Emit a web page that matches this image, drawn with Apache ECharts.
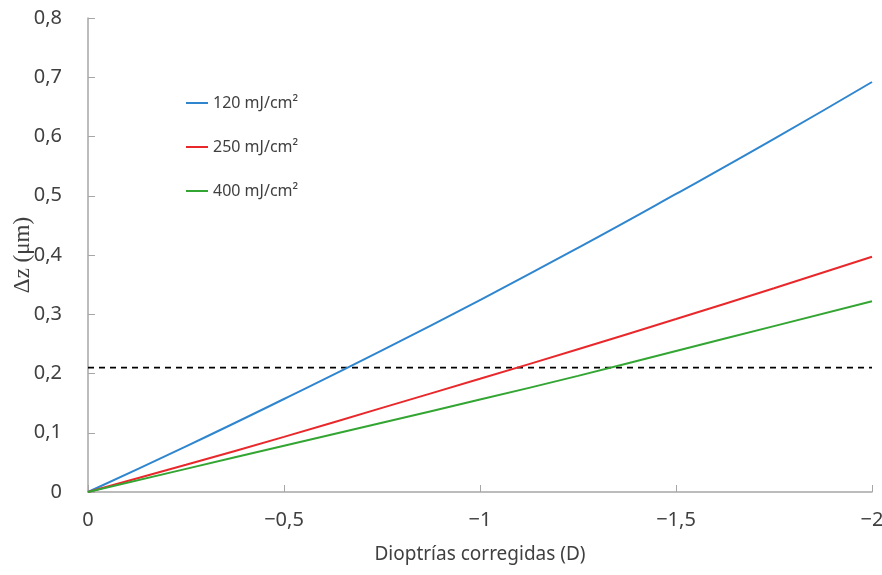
<!DOCTYPE html>
<html>
<head>
<meta charset="utf-8">
<script src="https://cdn.jsdelivr.net/npm/echarts@6/dist/echarts.min.js"></script>
<style>
  html, body { margin: 0; padding: 0; background: #fff; }
  #chart { width: 882px; height: 575px; }
</style>
</head>
<body>
<div id="chart"></div>
<script>
// dioptrías corregidas (D)
var dioptrias = [0, -0.25, -0.5, -0.75, -1, -1.25, -1.5, -1.75, -2];
// Δz (µm) per fluence
var dz120 = [0, 0.077, 0.157, 0.239, 0.324, 0.412, 0.503, 0.596, 0.692];
var dz250 = [0, 0.046, 0.093, 0.142, 0.191, 0.241, 0.292, 0.344, 0.397];
var dz400 = [0, 0.039, 0.078, 0.117, 0.156, 0.196, 0.238, 0.280, 0.322];
var umbral = 0.21;
var seriesNames = ["120 mJ/cm²", "250 mJ/cm²", "400 mJ/cm²"];
var colors = ["#2f86cf", "#e8282b", "#33a532"];

function pairs(ys) {
  return dioptrias.map(function (x, i) { return [x, ys[i]]; });
}
function comma(v) {
  var s = String(Math.round(v * 10) / 10).replace(".", ",");
  return s.replace("-", "\u2212");
}

var chart = echarts.init(document.getElementById("chart"));
var axisGray = "#a6a6a6";
var tickFont = { color: "#404040", fontSize: 20, fontFamily: "Noto Sans" };

chart.setOption({
  animation: false,
  grid: { left: 88, right: 10, top: 18, bottom: 83, outerBoundsMode: "none" },
  legend: {
    orient: "vertical",
    left: 181,
    top: 90,
    icon: "rect",
    itemWidth: 22,
    itemHeight: 2,
    itemGap: 28,
    data: seriesNames,
    textStyle: { color: "#404040", fontSize: 16, fontFamily: "Noto Sans" }
  },
  xAxis: {
    type: "value",
    inverse: true,
    min: -2,
    max: 0,
    interval: 0.5,
    name: "Dioptrías corregidas (D)",
    nameLocation: "middle",
    nameGap: 53,
    nameTextStyle: { color: "#404040", fontSize: 19, fontFamily: "Noto Sans" },
    axisLine: { lineStyle: { color: axisGray, width: 1.5 } },
    axisTick: { inside: true, length: 7, lineStyle: { color: axisGray } },
    axisLabel: Object.assign({ margin: 18, formatter: comma }, tickFont),
    splitLine: { show: false }
  },
  yAxis: {
    type: "value",
    min: 0,
    max: 0.8,
    interval: 0.1,
    name: "Δz (μm)",
    nameLocation: "middle",
    nameGap: 54,
    nameMoveOverlap: false,
    nameTextStyle: { color: "#404040", fontSize: 23, fontFamily: "Liberation Serif" },
    axisLine: { show: true, lineStyle: { color: axisGray, width: 1.5 } },
    axisTick: { show: true, inside: true, length: 7, lineStyle: { color: axisGray } },
    axisLabel: Object.assign({ margin: 26, formatter: comma }, tickFont),
    splitLine: { show: false }
  },
  series: [
    {
      name: seriesNames[0], type: "line", data: pairs(dz120), smooth: true,
      showSymbol: false, color: colors[0], lineStyle: { width: 2 }
    },
    {
      name: seriesNames[1], type: "line", data: pairs(dz250), smooth: true,
      showSymbol: false, color: colors[1], lineStyle: { width: 2 }
    },
    {
      name: seriesNames[2], type: "line", data: pairs(dz400), smooth: true,
      showSymbol: false, color: colors[2], lineStyle: { width: 2 }
    },
    {
      name: "umbral", type: "line",
      data: [[0, umbral], [-2, umbral]],
      showSymbol: false, color: "#000",
      lineStyle: { width: 1.8, type: [6, 5] },
      z: 1
    }
  ]
});
</script>
</body>
</html>
